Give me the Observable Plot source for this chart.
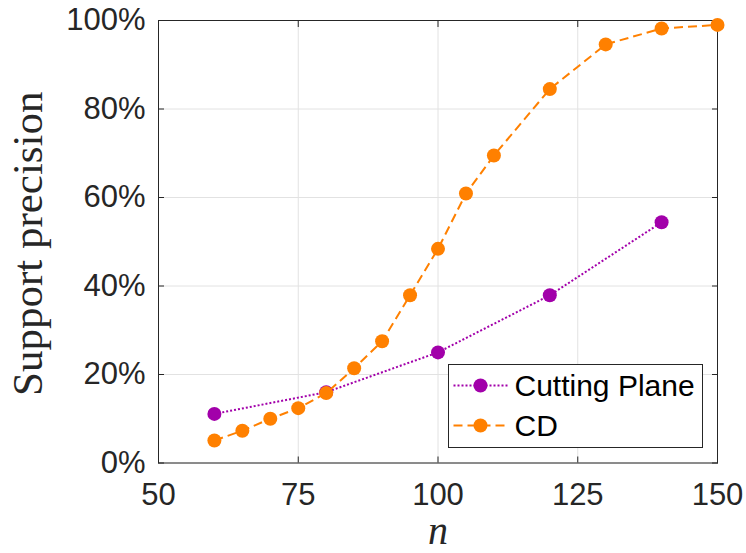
<!DOCTYPE html>
<html>
<head>
<meta charset="utf-8">
<script src="https://cdn.jsdelivr.net/npm/d3@7"></script>
<script src="https://cdn.jsdelivr.net/npm/@observablehq/plot@0.6"></script>
<style>
  body { margin: 0; background: #fff; }
</style>
</head>
<body>
<div id="chart"></div>
<script>
// Support precision (%) against problem size n for two solvers
const nCuttingPlane = [60, 80, 100, 120, 140];
const precCuttingPlane = [11.1, 16.0, 25.0, 37.9, 54.4];

const nCD = [60, 65, 70, 75, 80, 85, 90, 95, 100, 105, 110, 120, 130, 140, 150];
const precCD = [5.1, 7.3, 10.0, 12.4, 15.8, 21.4, 27.5, 37.9, 48.4, 60.9, 69.5, 84.5, 94.6, 98.2, 99.0];

const xTicks = [50, 75, 100, 125, 150];
const yTicks = [0, 20, 40, 60, 80, 100];
const seriesNames = ["Cutting Plane", "CD"];

const purple = "#a200aa";
const orange = "#ff8000";
const axisColor = "#262626";
const dotted = "2,2";
const dashed = "9,5";

const cpRows = nCuttingPlane.map((n, i) => ({n, p: precCuttingPlane[i]}));
const cdRows = nCD.map((n, i) => ({n, p: precCD[i]}));

const sans = "'Liberation Sans', Arial, Helvetica, sans-serif";
const serif = "'Liberation Serif', 'Times New Roman', serif";
const noLabel = () => "";

const chart = Plot.plot({
  width: 746,
  height: 553,
  marginLeft: 158,
  marginRight: 29,
  marginTop: 20,
  marginBottom: 90.5,
  style: {fontFamily: sans, background: "#fff", overflow: "visible"},
  x: {domain: [50, 150]},
  y: {domain: [0, 100]},
  marks: [
    Plot.gridX(xTicks, {stroke: "#e2e2e2", strokeOpacity: 1}),
    Plot.gridY(yTicks, {stroke: "#e2e2e2", strokeOpacity: 1}),
    Plot.frame({stroke: axisColor}),
    // tick labels
    Plot.axisX(xTicks, {anchor: "bottom", tickSize: 0, tickPadding: 20, fontSize: 31, fill: axisColor, label: null}),
    Plot.axisY(yTicks, {anchor: "left", tickSize: 0, tickPadding: 13, fontSize: 31, fill: axisColor, label: null, tickFormat: d => d + "%"}),
    // inward tick marks on all four sides
    Plot.axisX(xTicks, {anchor: "bottom", tickSize: -6, tickFormat: noLabel, stroke: axisColor, label: null}),
    Plot.axisX(xTicks, {anchor: "top", tickSize: -6, tickFormat: noLabel, stroke: axisColor, label: null}),
    Plot.axisY(yTicks, {anchor: "left", tickSize: -6, tickFormat: noLabel, stroke: axisColor, label: null}),
    Plot.axisY(yTicks, {anchor: "right", tickSize: -6, tickFormat: noLabel, stroke: axisColor, label: null}),
    // axis titles
    Plot.text(["Support precision"], {frameAnchor: "left", rotate: -90, dx: -130, dy: 2, fontFamily: serif, fontSize: 43, fill: axisColor, textAnchor: "middle", lineAnchor: "middle"}),
    Plot.text(["n"], {frameAnchor: "bottom", dy: 68, fontFamily: serif, fontStyle: "italic", fontSize: 40, fill: axisColor, lineAnchor: "middle"}),
    // Cutting Plane
    Plot.line(cpRows, {x: "n", y: "p", stroke: purple, strokeWidth: 2, strokeDasharray: dotted, strokeLinecap: "butt"}),
    Plot.dot(cpRows, {x: "n", y: "p", r: 7, fill: purple, stroke: "none"}),
    // CD
    Plot.line(cdRows, {x: "n", y: "p", stroke: orange, strokeWidth: 2, strokeDasharray: dashed, strokeLinecap: "butt"}),
    Plot.dot(cdRows, {x: "n", y: "p", r: 7, fill: orange, stroke: "none"})
  ]
});

document.getElementById("chart").appendChild(chart);

// legend box
const svg = d3.select(chart);
const lg = svg.append("g").attr("transform", "translate(448.5,364.5)");
lg.append("rect").attr("width", 254).attr("height", 83)
  .attr("fill", "#fff").attr("stroke", axisColor).attr("stroke-width", 1);
const legendItems = [
  {name: seriesNames[0], color: purple, dash: dotted, cy: 21},
  {name: seriesNames[1], color: orange, dash: dashed, cy: 61}
];
for (const it of legendItems) {
  lg.append("line").attr("x1", 5).attr("x2", 60).attr("y1", it.cy).attr("y2", it.cy)
    .attr("stroke", it.color).attr("stroke-width", 2).attr("stroke-dasharray", it.dash);
  lg.append("circle").attr("cx", 32).attr("cy", it.cy).attr("r", 7).attr("fill", it.color);
  lg.append("text").attr("x", 66).attr("y", it.cy).attr("dy", "0.35em")
    .attr("text-anchor", "start")
    .attr("font-family", sans).attr("font-size", 30).attr("fill", "#000").text(it.name);
}
</script>
</body>
</html>
